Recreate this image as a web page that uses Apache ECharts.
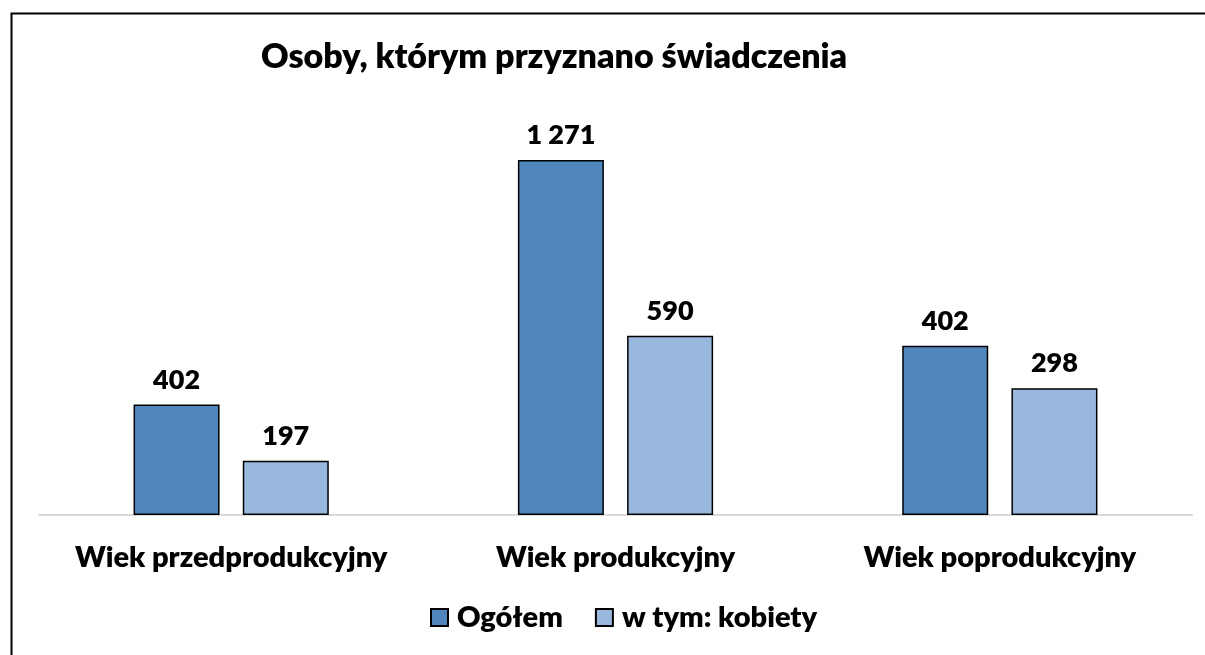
<!DOCTYPE html>
<html>
<head>
<meta charset="utf-8">
<script src="https://cdn.jsdelivr.net/npm/echarts@6/dist/echarts.min.js"></script>
<style>
  html, body { margin: 0; padding: 0; background: #fff; }
  #chartDom { width: 1205px; height: 655px; }
</style>
</head>
<body>
<div id="chartDom"></div>
<script>
// kategorie i wartości
const categories = ['Wiek przedprodukcyjny', 'Wiek produkcyjny', 'Wiek poprodukcyjny']
const seriesNames = ['Ogółem', 'w tym: kobiety']
// wysokości słupków
const ogolem = [396, 1271, 606]
const kobiety = [194, 642, 454]
// etykiety nad słupkami
const ogolemLabels = ['402', '1 271', '402']
const kobietyLabels = ['197', '590', '298']

const font = 'Lato, "Open Sans", sans-serif'
const weight = 800

const labelStyle = (texts) => ({
  show: true,
  position: 'top',
  distance: 11,
  fontFamily: font,
  fontWeight: weight,
  fontSize: 27,
  color: '#000',
  formatter: (p) => texts[p.dataIndex]
})

const option = {
  animation: false,
  title: {
    text: 'Osoby, którym przyznano świadczenia',
    left: 256,
    top: 35,
    textStyle: { fontFamily: font, fontWeight: weight, fontSize: 34, color: '#000' }
  },
  legend: {
    bottom: 18,
    left: 425,
    icon: 'rect',
    itemWidth: 17,
    itemHeight: 17,
    itemGap: 32,
    textStyle: { fontFamily: font, fontWeight: weight, fontSize: 29, color: '#000', padding: [0, 0, 0, 4] }
  },
  grid: { left: 39, right: 13, top: 96, bottom: 140 },
  xAxis: {
    type: 'category',
    data: categories,
    axisLine: { lineStyle: { color: '#d9d9d9', width: 2 } },
    axisTick: { show: false },
    axisLabel: {
      interval: 0,
      hideOverlap: false,
      margin: 28,
      fontFamily: font,
      fontWeight: weight,
      fontSize: 29,
      color: '#000'
    }
  },
  yAxis: { type: 'value', min: 0, max: 1500, show: false, splitLine: { show: false } },
  series: [
    {
      name: seriesNames[0],
      type: 'bar',
      data: ogolem,
      barWidth: 86,
      barGap: '27%',
      itemStyle: { color: '#4f86bb', borderColor: '#000', borderWidth: 1.5 },
      label: labelStyle(ogolemLabels)
    },
    {
      name: seriesNames[1],
      type: 'bar',
      data: kobiety,
      barWidth: 86,
      itemStyle: { color: '#98b8de', borderColor: '#000', borderWidth: 1.5 },
      label: labelStyle(kobietyLabels)
    }
  ],
  graphic: [
    {
      type: 'rect',
      left: 9,
      top: 11,
      shape: { width: 1300, height: 800 },
      style: { fill: 'none', stroke: '#000', lineWidth: 2 },
      silent: true
    }
  ]
}

var myChart = echarts.init(document.getElementById('chartDom'))
myChart.setOption(option)
</script>
</body>
</html>
